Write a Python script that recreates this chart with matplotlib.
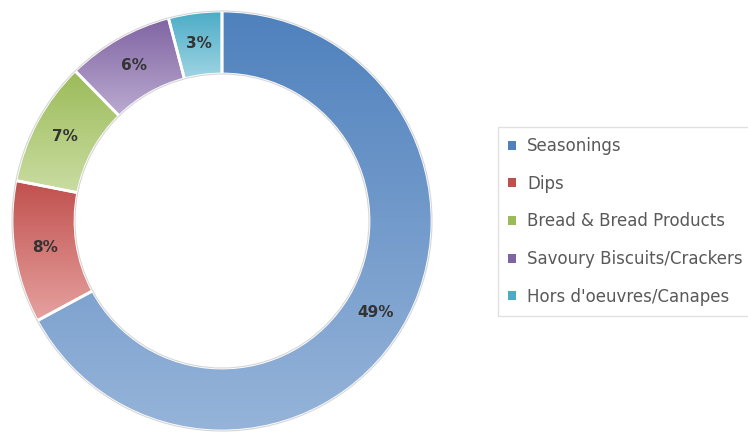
import numpy as np
import matplotlib.pyplot as plt
from matplotlib.patches import Patch, Circle
from matplotlib.colors import to_rgb

# Data
categories = ["Seasonings", "Dips", "Bread & Bread Products",
              "Savoury Biscuits/Crackers", "Hors d'oeuvres/Canapes"]
shares = [49, 8, 7, 6, 3]

# Excel-style gradient: darker at the top of each slice, lighter at the bottom
top_colors = ["#4F81BD", "#C0504D", "#9BBB59", "#8064A2", "#4BACC6"]
bottom_colors = ["#96B4D9", "#E6A2A0", "#CADDA2", "#BBABD1", "#A0D5E4"]

W, H = 748, 433
fig = plt.figure(figsize=(W / 100, H / 100), dpi=100)

# donut centre / radius in pixels
cx, cy, R = 222, H - 221, 210
pad = 1.03
ax = fig.add_axes([(cx - R * pad) / W, (cy - R * pad) / H,
                   2 * R * pad / W, 2 * R * pad / H])

wedges, _ = ax.pie(shares, radius=1, startangle=90, counterclock=False,
                   wedgeprops=dict(width=0.3, edgecolor="white", linewidth=2))

t = np.linspace(0, 1, 256)[:, None]
for w, c0, c1 in zip(wedges, top_colors, bottom_colors):
    bb = w.get_path().get_extents()
    grad = (1 - t) * np.array(to_rgb(c0)) + t * np.array(to_rgb(c1))
    img = ax.imshow(grad[:, None, :], extent=[bb.x0, bb.x1, bb.y0, bb.y1],
                    origin="upper", aspect="auto", zorder=1,
                    interpolation="bilinear")
    img.set_clip_path(w)
    w.set_facecolor("none")
    w.set_zorder(2)

# faint outline around the ring
ax.add_patch(Circle((0, 0), 1.0, fill=False, ec="#d6d6d6", lw=0.8, zorder=3))
ax.add_patch(Circle((0, 0), 0.7, fill=False, ec="#d6d6d6", lw=0.8, zorder=3))

# value labels
for w, v in zip(wedges, shares):
    ang = np.deg2rad((w.theta1 + w.theta2) / 2)
    ax.text(0.85 * np.cos(ang), 0.85 * np.sin(ang), f"{v}%",
            ha="center", va="center", fontsize=11, fontweight="bold",
            color="#333333", zorder=4)

ax.set_xlim(-pad, pad)
ax.set_ylim(-pad, pad)
ax.set_aspect("equal")
ax.axis("off")

handles = [Patch(facecolor=c) for c in top_colors]
fig.legend(handles, categories, loc="upper left",
           bbox_to_anchor=(498 / W, 1 - 127 / H),
           frameon=True, fancybox=False, edgecolor="#d9d9d9",
           fontsize=12, labelspacing=1.18, handlelength=0.45,
           handleheight=0.45, handletextpad=0.7, borderpad=0.6,
           borderaxespad=0, labelcolor="#595959")

fig.savefig("out.png", dpi=100)
